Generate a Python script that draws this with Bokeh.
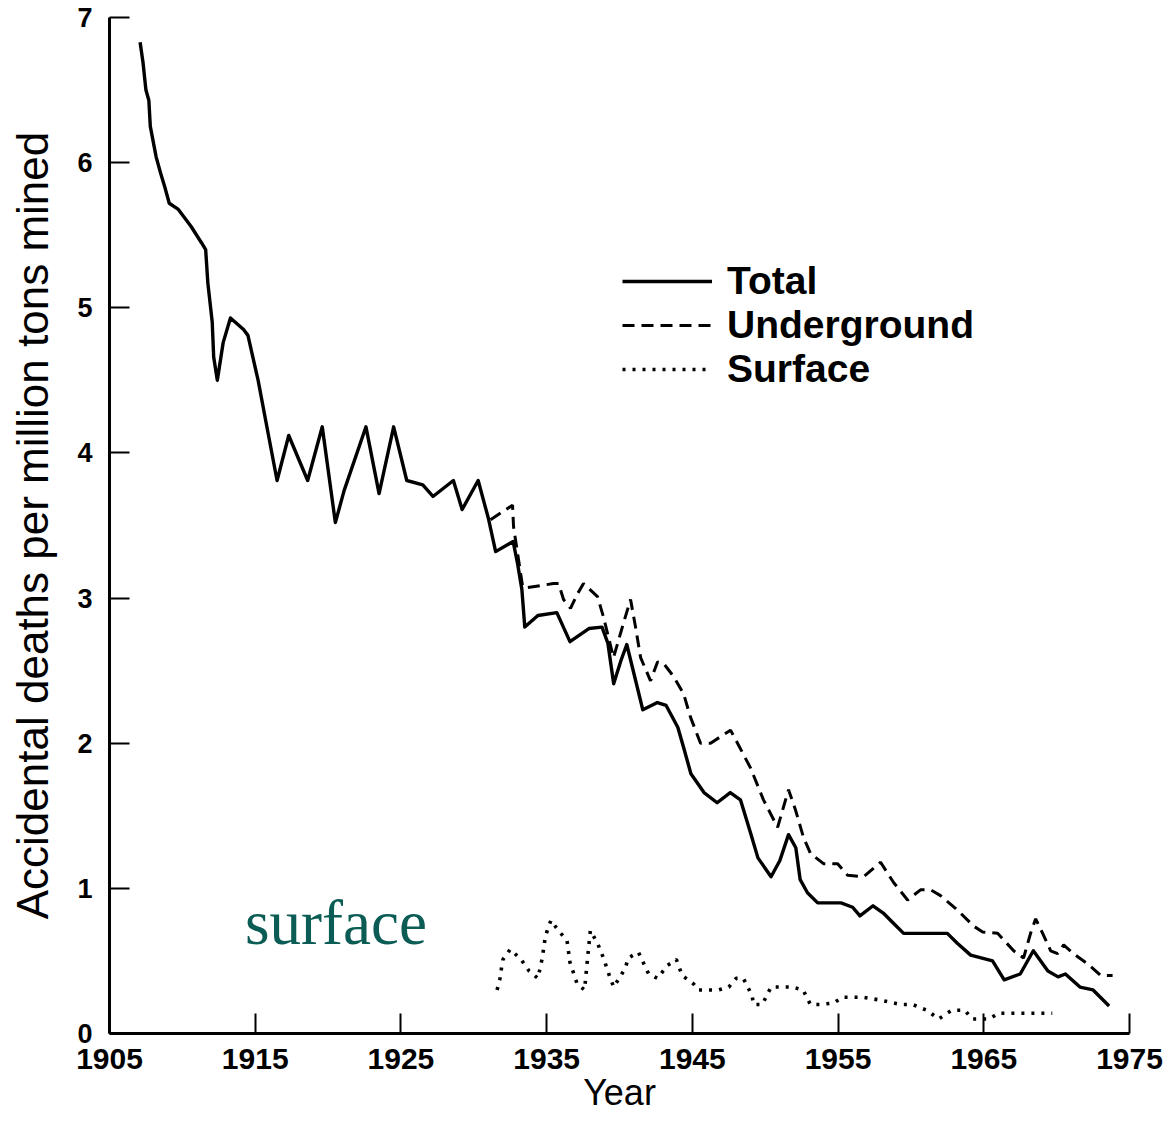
from bokeh.plotting import figure
from bokeh.models import Legend, LegendItem, Label, FixedTicker, Range1d
from bokeh.embed import file_html
from bokeh.resources import INLINE

# ---------------- data ----------------
total_year = [1907.1, 1907.3, 1907.5, 1907.7, 1907.8, 1908.2, 1908.5, 1908.8, 1909.1, 1909.7,
              1910.6, 1911.3, 1911.6, 1911.75, 1912.05, 1912.15, 1912.4, 1912.8, 1913.3, 1914.2,
              1914.5, 1915.2, 1915.8, 1916.5, 1917.3, 1918.6, 1919.6, 1920.5, 1921.1, 1922.6,
              1923.5, 1924.5, 1925.4, 1926.5, 1927.2, 1928.6, 1929.2, 1930.3, 1931.0, 1931.5,
              1932.7, 1933.0, 1933.3, 1933.5, 1934.4, 1935.7, 1936.6, 1937.9, 1938.8, 1939.2,
              1939.6, 1940.1, 1940.5, 1941.6, 1942.6, 1943.2, 1944.0, 1944.4, 1944.9, 1945.8,
              1946.7, 1947.6, 1948.3, 1949.0, 1949.5, 1950.4, 1951.0, 1951.6, 1952.1, 1952.4,
              1952.9, 1953.6, 1955.2, 1956.0, 1956.5, 1957.4, 1958.1, 1958.8, 1959.5, 1962.5,
              1963.2, 1964.1, 1965.6, 1966.4, 1967.5, 1968.4, 1969.4, 1970.1, 1970.6, 1971.6,
              1972.5, 1973.6]
total_rate = [6.83, 6.69, 6.50, 6.43, 6.25, 6.04, 5.93, 5.83, 5.72, 5.68,
              5.56, 5.45, 5.40, 5.17, 4.90, 4.66, 4.50, 4.76, 4.93, 4.85,
              4.81, 4.50, 4.18, 3.81, 4.12, 3.81, 4.18, 3.52, 3.74, 4.18,
              3.72, 4.18, 3.81, 3.78, 3.70, 3.81, 3.61, 3.81, 3.55, 3.32,
              3.39, 3.24, 3.06, 2.80, 2.88, 2.90, 2.70, 2.79, 2.80, 2.69,
              2.41, 2.57, 2.68, 2.23, 2.28, 2.26, 2.11, 1.97, 1.79, 1.66,
              1.59, 1.66, 1.61, 1.38, 1.21, 1.08, 1.19, 1.37, 1.28, 1.06,
              0.97, 0.90, 0.90, 0.87, 0.81, 0.88, 0.83, 0.76, 0.69, 0.69,
              0.62, 0.54, 0.50, 0.37, 0.41, 0.57, 0.43, 0.39, 0.41, 0.32,
              0.30, 0.19]

under_year = [1931.15, 1932.66, 1932.73, 1933.35, 1933.55, 1935.47, 1935.82, 1936.16, 1936.64, 1937.12,
              1937.53, 1938.49, 1938.9, 1939.59, 1940.28, 1940.76, 1941.1, 1941.45, 1942.13, 1942.61,
              1943.02, 1943.71, 1944.4, 1944.87, 1945.56, 1946.25, 1947.62, 1948.1, 1948.99, 1949.88,
              1950.85, 1951.6, 1952.08, 1952.63, 1953.11, 1954.0, 1954.97, 1955.65, 1956.75, 1957.92,
              1958.81, 1959.77, 1960.66, 1961.35, 1962.03, 1963.2, 1964.3, 1964.92, 1965.95, 1967.05,
              1967.73, 1968.21, 1968.56, 1969.04, 1969.59, 1970.07, 1970.48, 1971.16, 1972.12, 1973.02,
              1973.84]
under_rate = [3.54, 3.64, 3.49, 3.08, 3.07, 3.10, 3.10, 2.99, 2.93, 3.03,
              3.10, 3.01, 2.87, 2.59, 2.83, 2.99, 2.80, 2.59, 2.43, 2.56,
              2.55, 2.46, 2.34, 2.18, 2.00, 2.00, 2.09, 2.00, 1.83, 1.61,
              1.42, 1.68, 1.54, 1.35, 1.24, 1.17, 1.17, 1.09, 1.08, 1.18,
              1.04, 0.92, 0.99, 0.99, 0.95, 0.85, 0.74, 0.70, 0.69, 0.57,
              0.52, 0.69, 0.79, 0.69, 0.57, 0.55, 0.61, 0.55, 0.48, 0.40,
              0.40]

surf_year = [1931.6, 1931.8, 1931.9, 1932.0, 1932.5, 1933.25, 1933.8, 1934.4, 1934.7, 1934.9,
             1935.1, 1935.3, 1935.8, 1936.4, 1936.6, 1937.1, 1937.6, 1937.8, 1938.0, 1938.5,
             1938.9, 1939.3, 1939.6, 1940.4, 1940.6, 1941.3, 1942.0, 1942.6, 1943.3, 1943.9,
             1944.3, 1945.1, 1945.4, 1946.8, 1947.5, 1948.0, 1948.5, 1949.1, 1949.2, 1949.8,
             1950.4, 1951.8, 1952.6, 1953.1, 1953.8, 1954.7, 1955.3, 1956.7, 1957.9, 1959.3,
             1960.1, 1961.1, 1961.9, 1962.8, 1963.7, 1964.2, 1965.4, 1966.0, 1969.7]
surf_rate = [0.30, 0.38, 0.45, 0.51, 0.58, 0.51, 0.43, 0.38, 0.52, 0.66,
             0.73, 0.78, 0.71, 0.64, 0.49, 0.34, 0.30, 0.51, 0.71, 0.62,
             0.52, 0.40, 0.32, 0.45, 0.52, 0.56, 0.41, 0.38, 0.47, 0.51,
             0.40, 0.34, 0.30, 0.30, 0.32, 0.38, 0.38, 0.26, 0.20, 0.20,
             0.32, 0.32, 0.30, 0.20, 0.20, 0.21, 0.25, 0.25, 0.23, 0.20,
             0.20, 0.16, 0.10, 0.16, 0.16, 0.10, 0.10, 0.14, 0.14]

x_ticks = [1905, 1915, 1925, 1935, 1945, 1955, 1965, 1975]
y_ticks = [0, 1, 2, 3, 4, 5, 6, 7]
series_names = ["Total", "Underground", "Surface"]
note_text = "surface"

# ---------------- figure ----------------
p = figure(width=1165, height=1122, output_backend="svg", toolbar_location=None,
           x_range=Range1d(1905, 1975), y_range=Range1d(0, 7),
           min_border_left=109, min_border_right=36, min_border_top=17, min_border_bottom=89,
           background_fill_color="white", border_fill_color="white")
p.outline_line_color = None
p.xgrid.visible = False
p.ygrid.visible = False

FONT = "Liberation Sans"

for ax in (p.xaxis[0], p.yaxis[0]):
    ax.axis_line_width = 3
    ax.axis_line_color = "black"
    ax.major_tick_in = 20
    ax.major_tick_out = 0
    ax.major_tick_line_width = 2
    ax.major_tick_line_color = "black"
    ax.minor_tick_line_color = None
    ax.major_label_text_font = FONT
    ax.major_label_text_font_style = "bold"
    ax.major_label_text_color = "black"
    ax.axis_label_text_font = FONT
    ax.axis_label_text_font_style = "normal"
    ax.axis_label_text_color = "black"

p.xaxis.ticker = FixedTicker(ticks=x_ticks)
p.yaxis.ticker = FixedTicker(ticks=y_ticks)
p.xaxis.major_label_text_font_size = "30px"
p.xaxis.major_label_standoff = 15
p.xaxis.axis_label = "Year"
p.xaxis.axis_label_text_font_size = "36px"
p.xaxis.axis_label_standoff = 0

p.yaxis.major_label_text_font_size = "27px"
p.yaxis.major_label_standoff = 17
p.yaxis.axis_label = "Accidental deaths per million tons mined"
p.yaxis.axis_label_text_font_size = "44px"
p.yaxis.axis_label_standoff = 17

r_total = p.line(total_year, total_rate, line_color="black", line_width=3.4, line_join="round")
r_under = p.line(under_year, under_rate, line_color="black", line_width=3, line_dash="12 7")
r_surf = p.line(surf_year, surf_rate, line_color="black", line_width=3.6, line_dash="3 7")

legend = Legend(items=[LegendItem(label=series_names[0], renderers=[r_total]),
                       LegendItem(label=series_names[1], renderers=[r_under]),
                       LegendItem(label=series_names[2], renderers=[r_surf])],
                location=(513, 642), orientation="vertical",
                glyph_width=90, glyph_height=44, label_height=44, label_standoff=15,
                spacing=0, padding=0, margin=0,
                border_line_alpha=0, background_fill_alpha=0,
                label_text_font=FONT, label_text_font_style="bold",
                label_text_font_size="39px", label_text_color="black")
p.add_layout(legend, "center")

p.add_layout(Label(x=1914.3, y=0.76, text=note_text, text_font="Liberation Serif",
                   text_font_size="63px", text_color="#0b5c55", text_baseline="alphabetic"))

open("out.html", "w").write(file_html(p, INLINE))
